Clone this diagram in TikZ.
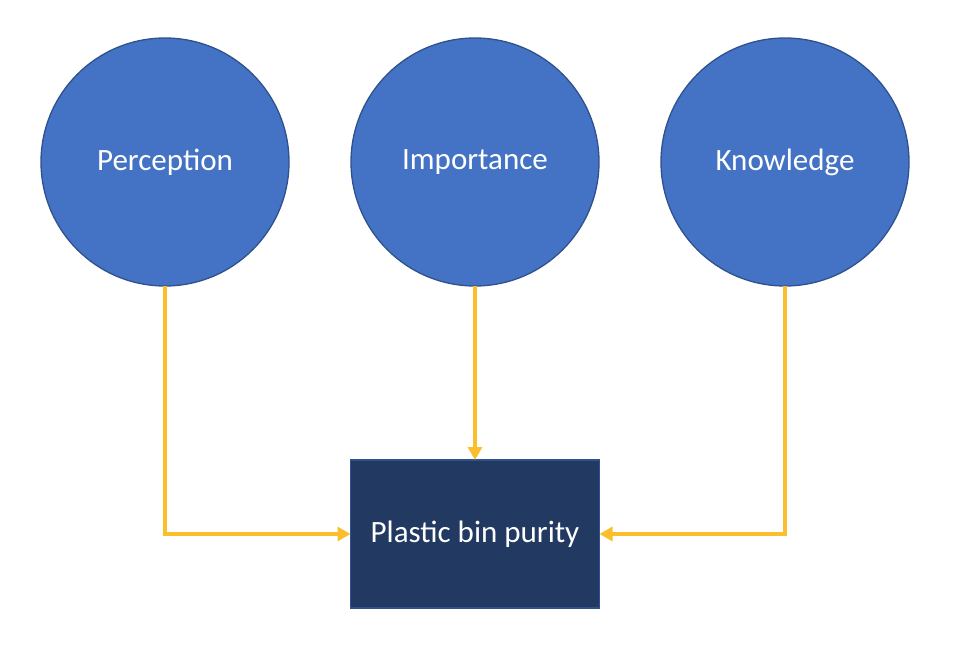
\documentclass[tikz,border=0pt]{standalone}
\usepackage{fontspec}
\setmainfont{Carlito}
\usepackage{xcolor}
\usetikzlibrary{arrows.meta,positioning}

\definecolor{circblue}{HTML}{4472C4}
\definecolor{edgeblue}{HTML}{2F528F}
\definecolor{navy}{HTML}{223962}
\definecolor{gold}{HTML}{FBBE2C}

\begin{document}
\begin{tikzpicture}[
  x=1pt, y=-1pt,
  font=\fontsize{31}{36}\selectfont,
  factor/.style={circle, draw=edgeblue, line width=1.3pt, fill=circblue, text=white,
    minimum size=248pt, inner sep=0pt, outer sep=0pt},
  outcome/.style={rectangle, draw=edgeblue, line width=1.8pt, fill=navy, text=white,
    minimum width=249pt, minimum height=148pt, inner sep=0pt, outer sep=0pt},
  flow/.style={-{Triangle[length=13pt,width=14pt]}, gold, line width=4pt}
]
\useasboundingbox (0,0) rectangle (958,650);
\node[factor] (perc) at (165,162) {Perception};
\node[factor, right=62pt of perc] (imp) {Importance};
\node[factor, right=62pt of imp] (know) {Knowledge};
\node[outcome, below=174pt of imp] (purity) {Plastic bin purity};
\draw[flow] (perc.south) |- (purity.west);
\draw[flow] (imp.south) -- (purity.north);
\draw[flow] (know.south) |- (purity.east);
\end{tikzpicture}
\end{document}
